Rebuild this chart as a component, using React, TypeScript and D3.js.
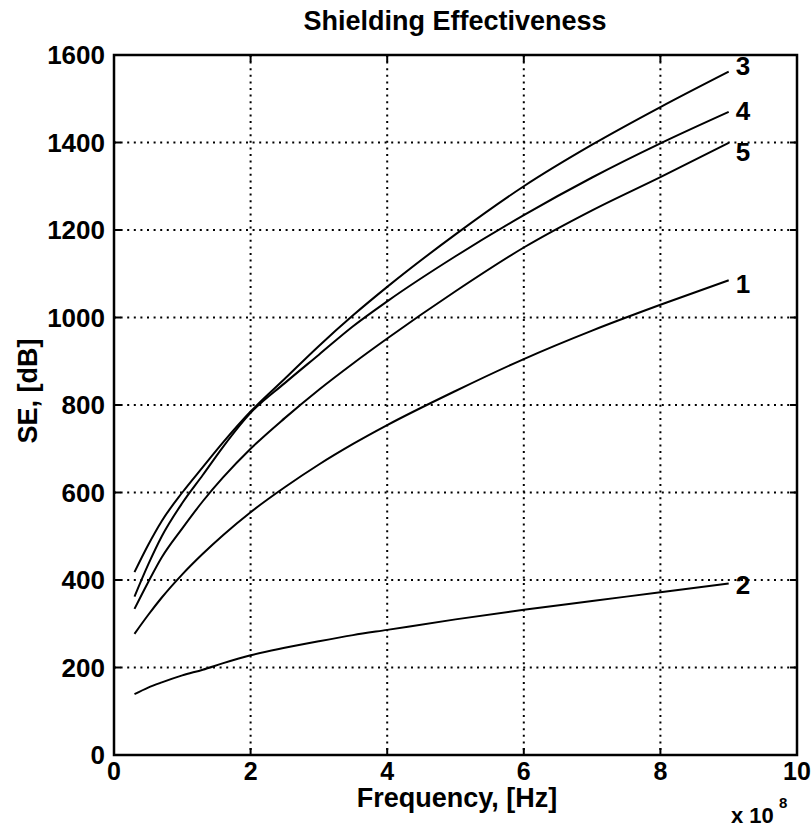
import React from "react";
import * as d3 from "d3";

const freq = [0.3, 0.5, 0.7, 1, 1.3, 1.6, 2, 2.5, 3, 3.5, 4, 5, 6, 7, 8, 9];
const curve1 = [277, 320, 360, 413, 460, 503, 555, 612, 664, 711, 754, 832, 905, 970, 1029, 1085];
const curve2 = [139, 154, 166, 182, 195, 210, 228, 245, 260, 274, 286, 310, 332, 352, 372, 392];
const curve3 = [418, 480, 535, 600, 658, 715, 785, 860, 935, 1005, 1070, 1190, 1300, 1395, 1481, 1562];
const curve4 = [362, 435, 500, 576, 640, 705, 782, 850, 915, 980, 1037, 1140, 1234, 1320, 1398, 1470];
const curve5 = [334, 395, 452, 518, 580, 635, 700, 770, 835, 895, 952, 1060, 1160, 1245, 1321, 1399];

const seriesNames = ["1", "2", "3", "4", "5"];
const seriesValues = [curve1, curve2, curve3, curve4, curve5];
const labelDy = [4, 1, -6, -1, 9];

const xTicks = [0, 2, 4, 6, 8, 10];
const yTicks = [0, 200, 400, 600, 800, 1000, 1200, 1400, 1600];

const W = 812;
const H = 828;
const M = { left: 114, right: 797, top: 55, bottom: 755 };
const FONT = "'Liberation Sans Narrow', 'Arial Narrow', 'Liberation Sans', Arial, sans-serif";

export default function App() {
  const x = d3.scaleLinear().domain([0, 10]).range([M.left, M.right]);
  const y = d3.scaleLinear().domain([0, 1600]).range([M.bottom, M.top]);
  const line = d3
    .line<number>()
    .x((_, i) => x(freq[i]))
    .y((d) => y(d))
    .curve(d3.curveMonotoneX);

  return (
    <svg
      width={W}
      height={H}
      style={{ position: "absolute", left: 0, top: 0, background: "#fff" }}
      fontFamily={FONT}
      fontWeight="bold"
    >
      <rect x={0} y={0} width={W} height={H} fill="#fff" />
      {xTicks.slice(1, -1).map((t) => (
        <line key={"gx" + t} x1={x(t)} x2={x(t)} y1={M.top} y2={M.bottom} stroke="#000" strokeWidth={2} strokeDasharray="2,4.6" />
      ))}
      {yTicks.slice(1, -1).map((t) => (
        <line key={"gy" + t} x1={M.left} x2={M.right} y1={y(t)} y2={y(t)} stroke="#000" strokeWidth={2} strokeDasharray="2,4.6" />
      ))}
      {xTicks.map((t) => (
        <g key={"tx" + t}>
          <line x1={x(t)} x2={x(t)} y1={M.bottom} y2={M.bottom - 7} stroke="#000" strokeWidth={2} />
          <line x1={x(t)} x2={x(t)} y1={M.top} y2={M.top + 7} stroke="#000" strokeWidth={2} />
          <text x={x(t)} y={M.bottom + 25} textAnchor="middle" fontSize={25}>
            {t}
          </text>
        </g>
      ))}
      {yTicks.map((t) => (
        <g key={"ty" + t}>
          <line x1={M.left} x2={M.left + 7} y1={y(t)} y2={y(t)} stroke="#000" strokeWidth={2} />
          <line x1={M.right} x2={M.right - 7} y1={y(t)} y2={y(t)} stroke="#000" strokeWidth={2} />
          <text x={M.left - 9} y={y(t) + 9} textAnchor="end" fontSize={26}>
            {t}
          </text>
        </g>
      ))}
      <rect x={M.left} y={M.top} width={M.right - M.left} height={M.bottom - M.top} fill="none" stroke="#000" strokeWidth={2.5} />
      {seriesValues.map((vals, k) => (
        <g key={"s" + k}>
          <path d={line(vals) || ""} fill="none" stroke="#000" strokeWidth={2} />
          <text x={x(freq[freq.length - 1]) + 7} y={y(vals[vals.length - 1]) + labelDy[k] + 9} fontSize={26}>
            {seriesNames[k]}
          </text>
        </g>
      ))}
      <text x={455} y={30} textAnchor="middle" fontSize={27}>
        Shielding Effectiveness
      </text>
      <text x={457} y={807} textAnchor="middle" fontSize={27}>
        Frequency, [Hz]
      </text>
      <text transform="translate(37,391) rotate(-90)" textAnchor="middle" fontSize={27}>
        SE, [dB]
      </text>
      <text x={731} y={823} fontSize={22}>
        x 10
      </text>
      <text x={779} y={808} fontSize={15}>
        8
      </text>
    </svg>
  );
}
